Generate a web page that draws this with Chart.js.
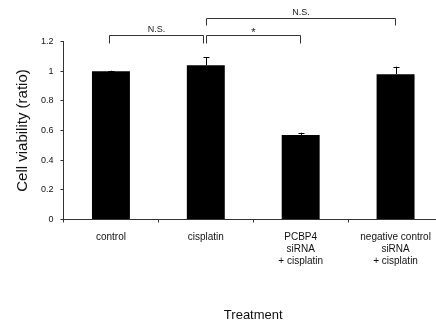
<!DOCTYPE html>
<html><head><meta charset="utf-8">
<script src="https://cdn.jsdelivr.net/npm/chart.js@4/dist/chart.umd.min.js"></script>
<style>html,body{margin:0;padding:0;background:#fff;overflow:hidden;width:436px;height:326px}</style>
</head><body>
<canvas id="c" width="460" height="326" style="display:block"></canvas>
<script>
const categories = [["control"], ["cisplatin"], ["PCBP4", "siRNA", "+ cisplatin"], ["negative control", "siRNA", "+ cisplatin"]];
const values = [1.0, 1.04, 0.57, 0.98];
const errors = [0.003, 0.055, 0.015, 0.05];
const yTicks = [0, 0.2, 0.4, 0.6, 0.8, 1, 1.2];
// significance brackets: [fromIndex, toIndex, level(value), label]
const brackets = [[0, 1, 1.245, "N.S."], [1, 2, 1.245, "*"], [1, 3, 1.36, "N.S."]];
const FONT = "'Liberation Sans', Arial, sans-serif";

const overlay = {
  id: 'overlay',
  afterDatasetsDraw(chart) {
    const ctx = chart.ctx, x = chart.scales.x, y = chart.scales.y;
    ctx.save();
    ctx.strokeStyle = '#000'; ctx.lineWidth = 1;
    const meta = chart.getDatasetMeta(0);
    values.forEach((v, i) => {
      const px = Math.round(meta.data[i].x) + 0.5;
      const top = y.getPixelForValue(v + errors[i]);
      const base = y.getPixelForValue(v);
      ctx.beginPath();
      ctx.moveTo(px, base); ctx.lineTo(px, top);
      ctx.moveTo(px - 3, Math.round(top) + 0.5); ctx.lineTo(px + 3, Math.round(top) + 0.5);
      ctx.stroke();
    });
    ctx.strokeStyle = '#333';
    brackets.forEach(([a, b, lvl, lab], k) => {
      const x1 = Math.round(x.getPixelForValue(a)) + (a === 1 ? 0.5 : -1.5);
      const x2 = Math.round(x.getPixelForValue(b)) + (b === 1 ? -2.5 : -0.5);
      const yy = Math.round(y.getPixelForValue(lvl)) + 0.5;
      const leg = k === 2 ? 7 : 8;
      ctx.beginPath();
      ctx.moveTo(x1, yy + leg); ctx.lineTo(x1, yy); ctx.lineTo(x2, yy); ctx.lineTo(x2, yy + leg);
      ctx.stroke();
      ctx.fillStyle = '#222';
      ctx.textAlign = 'center'; ctx.textBaseline = 'bottom';
      ctx.font = (lab === '*' ? '11px ' : '9px ') + FONT;
      ctx.fillText(lab, (x1 + x2) / 2, yy - (lab === '*' ? -3 : 1));
    });
    ctx.restore();
  }
};

new Chart(document.getElementById('c'), {
  type: 'bar',
  data: {
    labels: categories,
    datasets: [{ data: values, backgroundColor: '#000', borderWidth: 0, barPercentage: 0.4, categoryPercentage: 1.0 }]
  },
  options: {
    responsive: false, animation: false, devicePixelRatio: 1,
    layout: { padding: { top: 41.5, right: 17, left: 0, bottom: 0 } },
    plugins: { legend: { display: false }, tooltip: { enabled: false } },
    scales: {
      x: {
        grid: { drawOnChartArea: false, offset: true, tickLength: 3, color: '#333', tickColor: '#333' },
        border: { color: '#333', width: 1 },
        ticks: { color: '#111', font: { family: FONT, size: 10, lineHeight: 1.2 }, padding: 9, maxRotation: 0, autoSkip: false },
        title: { display: true, text: 'Treatment', color: '#111', font: { family: FONT, size: 13 }, padding: { top: 0, bottom: 3 } },
        afterFit(s) { s.height = 106.5; }
      },
      y: {
        min: yTicks[0], max: yTicks[yTicks.length - 1],
        afterBuildTicks(s) { s.ticks = yTicks.map(v => ({ value: v })); },
        grid: { drawOnChartArea: false, tickLength: 3, color: '#333', tickColor: '#333' },
        border: { color: '#333', width: 1 },
        ticks: { color: '#111', font: { family: FONT, size: 9 }, padding: 7, callback: v => String(+(+v).toFixed(1)) },
        title: { display: true, text: 'Cell viability (ratio)', color: '#111', font: { family: FONT, size: 15 }, padding: { top: 14, bottom: 0 } },
        afterFit(s) { s.width = 63.5; }
      }
    }
  },
  plugins: [overlay]
});
</script>
</body></html>
